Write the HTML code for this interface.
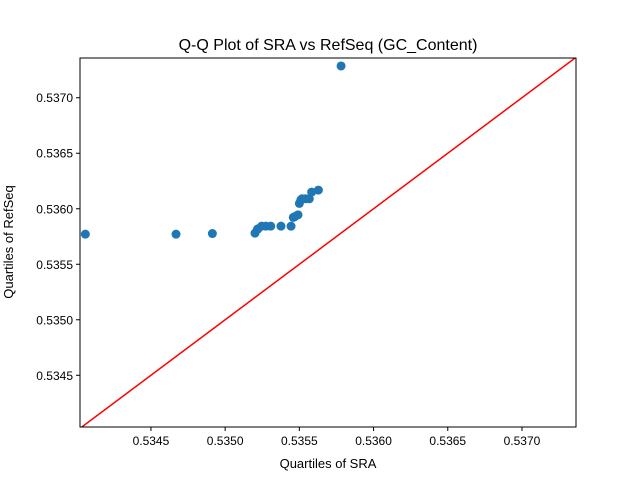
<!DOCTYPE html>
<html><head><meta charset="utf-8"><style>
body{margin:0;background:#fff}
svg{display:block;font-family:"Liberation Sans","DejaVu Sans",sans-serif}
</style></head><body>
<svg id="chart" width="640" height="480" viewBox="0 0 640 480">
<rect width="640" height="480" fill="#fff"/>
<text x="328" y="50" font-size="16" text-anchor="middle" fill="#000">Q-Q Plot of SRA vs RefSeq (GC_Content)</text>
<defs><clipPath id="clip"><rect x="80" y="58" width="496" height="369"/></clipPath></defs>
<g id="ticks"></g>
<g id="marks" clip-path="url(#clip)"></g>
<rect x="80" y="58" width="496" height="369" fill="none" stroke="#000" stroke-width="1"/>
<text x="328" y="468" font-size="13" text-anchor="middle">Quartiles of SRA</text>
<text x="0" y="0" font-size="13" text-anchor="middle" transform="translate(13,242) rotate(-90)">Quartiles of RefSeq</text>
</svg>
<script>
const sraQuantiles=[0.534058,0.534669,0.534914,0.535201,0.535217,0.535222,0.535246,0.535275,0.535307,0.535376,0.535444,0.535459,0.535470,0.535491,0.535500,0.535510,0.535518,0.535540,0.535567,0.535583,0.535628,0.535781];
const refseqQuantiles=[0.535771,0.535771,0.535777,0.535780,0.535814,0.535820,0.535843,0.535843,0.535843,0.535843,0.535843,0.535922,0.535930,0.535945,0.536048,0.536080,0.536090,0.536090,0.536090,0.536150,0.536168,0.537286];
const xTicks=[0.5345,0.5350,0.5355,0.5360,0.5365,0.5370];
const yTicks=[0.5345,0.5350,0.5355,0.5360,0.5365,0.5370];
const xDomain=[0.534022,0.537364];
const yDomain=[0.534034,0.537358];
const L=80,R=576,T=58,B=427;
const xs=v=>L+(v-xDomain[0])/(xDomain[1]-xDomain[0])*(R-L);
const ys=v=>B-(v-yDomain[0])/(yDomain[1]-yDomain[0])*(B-T);
const NS="http://www.w3.org/2000/svg";
const tg=document.getElementById('ticks'),mg=document.getElementById('marks');
function mk(tag,attrs,parent){const e=document.createElementNS(NS,tag);for(const k in attrs)e.setAttribute(k,attrs[k]);parent.appendChild(e);return e;}
xTicks.forEach(t=>{const x=xs(t);
const l=mk('line',{x1:x,x2:x,y1:B,y2:B+4,stroke:'#000'},tg);


const tx=mk('text',{x:x,y:B+18,'font-size':12,'text-anchor':'middle'},tg);tx.textContent=t.toFixed(4);

});
yTicks.forEach(t=>{const y=ys(t);
const l=mk('line',{x1:L-4,x2:L,y1:y,y2:y,stroke:'#000'},tg);


const tx=mk('text',{x:L-7,y:y+4.5,'font-size':12,'text-anchor':'end'},tg);tx.textContent=t.toFixed(4);

});
sraQuantiles.forEach((v,i)=>{const c=mk('circle',{cx:xs(v),cy:ys(refseqQuantiles[i]),r:4.5,fill:'#1f77b4'},mg);

});
const lo=Math.min(xDomain[0],yDomain[0]),hi=Math.max(xDomain[1],yDomain[1]);
const ln=mk('line',{x1:xs(lo),y1:ys(lo),x2:xs(hi),y2:ys(hi),stroke:'#ff0000','stroke-width':1.5},mg);


</script>
</body></html>
